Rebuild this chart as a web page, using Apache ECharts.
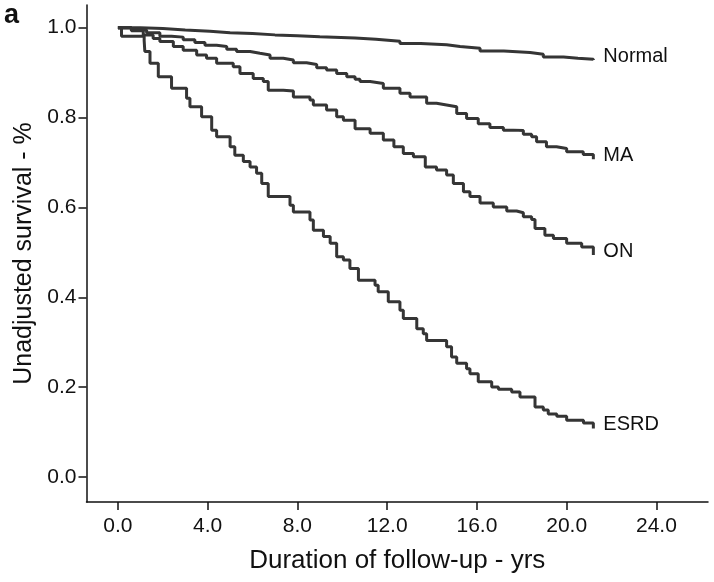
<!DOCTYPE html>
<html>
<head>
<meta charset="utf-8">
<script src="https://cdn.jsdelivr.net/npm/echarts@6/dist/echarts.min.js"></script>
<style>
  html, body { margin: 0; padding: 0; background: #fff; }
  #chart { width: 714px; height: 582px; }
</style>
</head>
<body>
<div id="chart"></div>
<script>
const xTicks = [0, 4, 8, 12, 16, 20, 24]
const yTicks = [0, 0.2, 0.4, 0.6, 0.8, 1.0]

const normalTime = [0, 1, 2, 3, 4.1, 5, 6, 7, 8, 9, 10.57, 11.5, 12.57, 13.5, 14.65, 15.25, 16.14, 17.2, 18.37, 18.96, 19.86, 20.5, 21.19]
const normalSurv = [1.0, 0.998, 0.995, 0.992, 0.989, 0.987, 0.984, 0.982, 0.98, 0.977, 0.974, 0.97, 0.965, 0.962, 0.958, 0.954, 0.948, 0.945, 0.941, 0.935, 0.932, 0.93, 0.928]

const maTime = [0, 0.6, 1.28, 1.87, 2.39, 2.91, 3.43, 3.88, 4.4, 4.85, 5.29, 5.89, 6.33, 6.78, 7.37, 7.82, 8.41, 8.86, 9.3, 9.75, 10.2, 10.57, 10.79, 11.24, 11.83, 12.57, 13.02, 13.76, 14.2, 14.65, 15.1, 15.54, 16.06, 16.58, 17.18, 17.62, 18.07, 18.44, 18.66, 19.1, 19.55, 20.0, 20.74, 21.19]
const maSurv = [1.0, 0.995, 0.989, 0.981, 0.979, 0.973, 0.967, 0.961, 0.958, 0.952, 0.947, 0.943, 0.939, 0.932, 0.928, 0.922, 0.918, 0.911, 0.906, 0.898, 0.891, 0.885, 0.88, 0.876, 0.865, 0.854, 0.846, 0.832, 0.828, 0.824, 0.809, 0.798, 0.786, 0.778, 0.772, 0.771, 0.763, 0.757, 0.746, 0.735, 0.731, 0.724, 0.718, 0.707]

const onTime = [0, 0.6, 1.13, 1.57, 1.87, 2.47, 2.91, 3.51, 3.95, 4.4, 5.14, 5.44, 6.03, 6.48, 6.7, 7.37, 7.82, 8.56, 8.71, 9.3, 9.75, 10.05, 10.57, 11.24, 11.83, 12.3, 12.72, 13.17, 13.7, 14.2, 14.65, 14.95, 15.4, 15.69, 16.14, 16.73, 17.33, 17.77, 18.07, 18.44, 18.59, 19.03, 19.41, 20.0, 20.67, 21.19]
const onSurv = [1.0, 0.993, 0.984, 0.976, 0.969, 0.958, 0.95, 0.939, 0.932, 0.921, 0.913, 0.898, 0.887, 0.88, 0.861, 0.859, 0.846, 0.839, 0.828, 0.817, 0.802, 0.794, 0.775, 0.765, 0.75, 0.735, 0.72, 0.713, 0.69, 0.683, 0.672, 0.653, 0.635, 0.624, 0.61, 0.601, 0.592, 0.588, 0.579, 0.573, 0.553, 0.538, 0.531, 0.52, 0.512, 0.494]

const esrdTime = [0, 0.16, 1.17, 1.2, 1.43, 1.8, 2.39, 3.06, 3.21, 3.73, 4.18, 4.4, 5.0, 5.21, 5.59, 5.89, 6.18, 6.41, 6.7, 7.67, 7.82, 8.56, 8.71, 9.16, 9.46, 9.75, 10.05, 10.34, 10.72, 11.46, 11.6, 12.05, 12.57, 12.72, 13.32, 13.61, 13.76, 14.65, 14.87, 15.1, 15.54, 15.69, 16.06, 16.66, 16.96, 17.55, 17.92, 18.59, 18.96, 19.18, 19.56, 20.0, 20.75, 21.19]
const esrdSurv = [1.0, 0.981, 0.971, 0.947, 0.921, 0.891, 0.865, 0.843, 0.824, 0.802, 0.772, 0.757, 0.735, 0.716, 0.702, 0.69, 0.676, 0.653, 0.624, 0.605, 0.59, 0.572, 0.549, 0.535, 0.52, 0.49, 0.483, 0.464, 0.438, 0.427, 0.412, 0.39, 0.371, 0.353, 0.33, 0.319, 0.304, 0.29, 0.267, 0.253, 0.241, 0.23, 0.212, 0.2, 0.195, 0.189, 0.178, 0.156, 0.149, 0.14, 0.135, 0.126, 0.12, 0.108]

const groups = [
  { name: 'Normal', time: normalTime, surv: normalSurv },
  { name: 'MA', time: maTime, surv: maSurv },
  { name: 'ON', time: onTime, surv: onSurv },
  { name: 'ESRD', time: esrdTime, surv: esrdSurv },
]

const font = "'Liberation Sans', Arial, sans-serif"
const ink = '#111'
const curveColor = '#353535'

const chart = echarts.init(document.getElementById('chart'))

chart.setOption({
  animation: false,
  backgroundColor: '#fff',
  title: {
    text: 'a',
    left: 4,
    top: 2,
    padding: 0,
    textStyle: { fontFamily: font, fontSize: 27, fontWeight: 'bold', color: ink },
  },
  grid: { left: 86.5, right: 6, top: 5, bottom: 80 },
  xAxis: {
    type: 'value',
    min: -1.4,
    max: 26.3,
    name: 'Duration of follow-up - yrs',
    nameLocation: 'middle',
    nameGap: 46,
    nameTextStyle: { fontFamily: font, fontSize: 26, color: ink },
    axisLine: { onZero: false, lineStyle: { color: ink, width: 1.5 } },
    axisTick: { show: true, length: 8, customValues: xTicks, lineStyle: { color: ink, width: 1.5 } },
    axisLabel: {
      customValues: xTicks,
      margin: 14,
      fontFamily: font,
      fontSize: 21,
      color: ink,
      formatter: (v) => Number(v).toFixed(1),
    },
    splitLine: { show: false },
  },
  yAxis: {
    type: 'value',
    min: -0.0557,
    max: 1.0505,
    name: 'Unadjusted survival - %',
    nameLocation: 'middle',
    nameGap: 46,
    nameTextStyle: { fontFamily: font, fontSize: 25, color: ink },
    axisLine: { show: true, onZero: false, lineStyle: { color: ink, width: 1.5 } },
    axisTick: { show: true, length: 8, customValues: yTicks, lineStyle: { color: ink, width: 1.5 } },
    axisLabel: {
      customValues: yTicks,
      margin: 10,
      fontFamily: font,
      fontSize: 21,
      color: ink,
      formatter: (v) => Number(v).toFixed(1),
    },
    splitLine: { show: false },
  },
  series: groups.map((g) => ({
    name: g.name,
    type: 'line',
    step: 'end',
    showSymbol: false,
    data: g.time.map((t, i) => [t, g.surv[i]]),
    lineStyle: { color: curveColor, width: 3 },
    itemStyle: { color: curveColor },
    endLabel: {
      show: true,
      formatter: '{a}',
      distance: 10,
      offset: [0, -4],
      fontFamily: font,
      fontSize: 20,
      color: ink,
    },
  })),
})
</script>
</body>
</html>
